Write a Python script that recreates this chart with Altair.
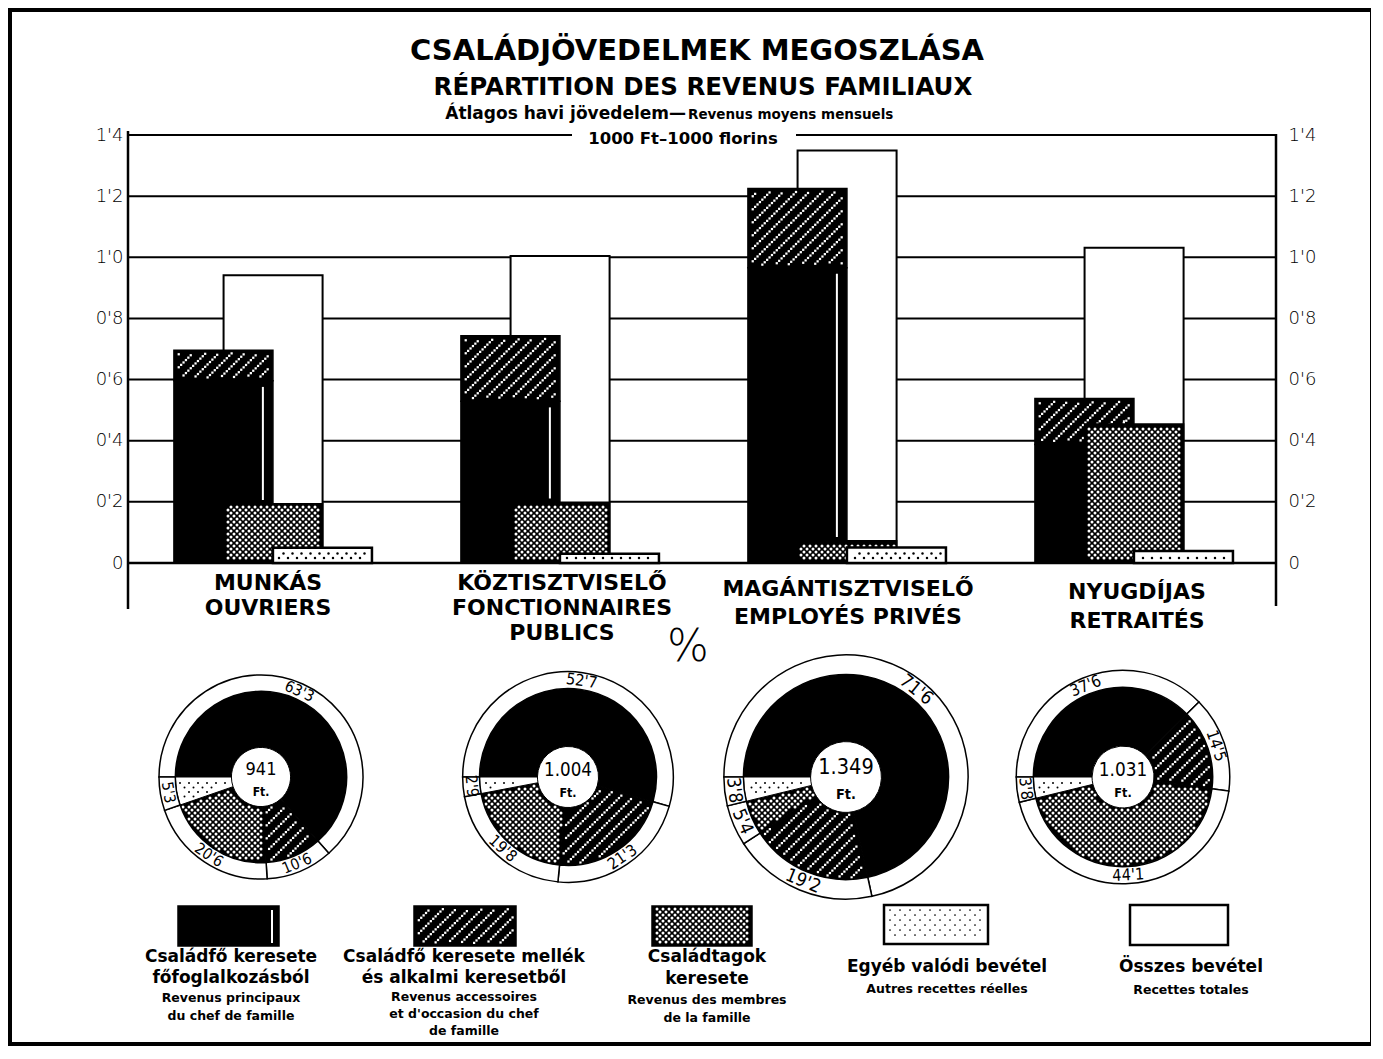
import json
import math
import numpy as np
import pandas as pd
import altair as alt

# ---------------- data ----------------
groups_hu = ["MUNKÁS", "KÖZTISZTVISELŐ", "MAGÁNTISZTVISELŐ", "NYUGDÍJAS"]
groups_fr = [["OUVRIERS"], ["FONCTIONNAIRES", "PUBLICS"], ["EMPLOYÉS PRIVÉS"], ["RETRAITÉS"]]

# monthly income, 1000 Ft
main_income = [0.596, 0.529, 0.966, 0.388]
accessory_income = [0.100, 0.214, 0.259, 0.150]
family_income = [0.194, 0.199, 0.073, 0.455]
other_income = [0.050, 0.030, 0.051, 0.039]
total_income = [0.941, 1.004, 1.349, 1.031]

# shares, %
main_pct = [63.3, 52.7, 71.6, 37.6]
accessory_pct = [10.6, 21.3, 19.2, 14.5]
family_pct = [20.6, 19.8, 5.4, 44.1]
other_pct = [5.3, 2.9, 3.8, 3.8]
pct_text = [["63'3", "10'6", "20'6", "5'3"],
            ["52'7", "21'3", "19'8", "2'9"],
            ["71'6", "19'2", "5'4", "3'8"],
            ["37'6", "14'5", "44'1", "3'8"]]
total_text = ["941", "1.004", "1.349", "1.031"]

tick_values = [0, 0.2, 0.4, 0.6, 0.8, 1.0, 1.2, 1.4]
tick_labels = ["0", "0'2", "0'4", "0'6", "0'8", "1'0", "1'2", "1'4"]

title_lines = ["CSALÁDJÖVEDELMEK MEGOSZLÁSA", "RÉPARTITION DES REVENUS FAMILIAUX"]
subtitle_hu = "Átlagos havi jövedelem—"
subtitle_fr = "Revenus moyens mensuels"
unit_text = "1000 Ft–1000 florins"

legend_hu = [["Családfő keresete", "főfoglalkozásból"],
             ["Családfő keresete mellék", "és alkalmi keresetből"],
             ["Családtagok", "keresete"],
             ["Egyéb valódi bevétel"],
             ["Összes bevétel"]]
legend_fr = [["Revenus principaux", "du chef de famille"],
             ["Revenus accessoires", "et d'occasion du chef", "de famille"],
             ["Revenus des membres", "de la famille"],
             ["Autres recettes réelles"],
             ["Recettes totales"]]

# ---------------- layout ----------------
W, H = 1148, 428          # plot area
OX, OY = 128, 135         # page position of plot origin
YMAX = 1.4
SX, SY = W / 4.0, H / YMAX
FONT = "DejaVu Sans"
NARROW = "DejaVu Sans Condensed, Liberation Sans Narrow, DejaVu Sans"


def dx(px):
    return (np.asarray(px, dtype=float) - OX) / SX


def dy(py):
    return (OY + H - np.asarray(py, dtype=float)) / SY


def to_px(v):
    return OX + v * SX


def to_py(v):
    return OY + H - v * SY


XS = alt.Scale(domain=[0, 4], nice=False, zero=False)
YS = alt.Scale(domain=[0, YMAX], nice=False, zero=False)


def rect_layer(df, **mk):
    return alt.Chart(df).mark_rect(**mk).encode(
        x=alt.X("x0:Q", scale=XS, axis=None), x2=alt.X2("x1"),
        y=alt.Y("y0:Q", scale=YS, axis=None), y2=alt.Y2("y1"))


def rule_layer(df, **mk):
    return alt.Chart(df).mark_rule(**mk).encode(
        x=alt.X("x0:Q", scale=XS, axis=None), x2=alt.X2("x1"),
        y=alt.Y("y0:Q", scale=YS, axis=None), y2=alt.Y2("y1"))


def point_layer(pts, color, size, shape="square"):
    arr = np.array(pts, dtype=float).reshape(-1, 2)
    df = pd.DataFrame({"x": dx(arr[:, 0]), "y": dy(arr[:, 1])})
    return alt.Chart(df).mark_point(shape=shape, filled=True, size=size, color=color,
                                    opacity=1, strokeWidth=0).encode(
        x=alt.X("x:Q", scale=XS, axis=None), y=alt.Y("y:Q", scale=YS, axis=None))


def text_layer(rows, weight="bold", align="center", baseline="middle", font=FONT):
    df = pd.DataFrame(rows, columns=["text", "px", "py", "size", "angle"])
    df["x"] = dx(df["px"])
    df["y"] = dy(df["py"])
    return alt.Chart(df).mark_text(font=font, fontWeight=weight, align=align,
                                   baseline=baseline, color="black").encode(
        x=alt.X("x:Q", scale=XS, axis=None), y=alt.Y("y:Q", scale=YS, axis=None),
        text=alt.Text("text:N"), size=alt.Size("size:Q", scale=None),
        angle=alt.Angle("angle:Q", scale=None))


def arc_layer(df, **mk):
    return alt.Chart(df).mark_arc(**mk).encode(
        x=alt.X("x:Q", scale=XS, axis=None), y=alt.Y("y:Q", scale=YS, axis=None),
        theta=alt.Theta("t0:Q", scale=None, stack=None), theta2=alt.Theta2("t1"),
        radius=alt.Radius("r1:Q", scale=None), radius2=alt.Radius2("r0"),
        color=alt.Color("fill:N", scale=None))


def box_df(boxes):
    return pd.DataFrame({"x0": [dx(b[0]) for b in boxes], "x1": [dx(b[1]) for b in boxes],
                         "y0": [dy(b[2]) for b in boxes], "y1": [dy(b[3]) for b in boxes]})


# ---- pattern generators (page pixel space) ----
def rect_test(box, m=1.5):
    x0, x1, y0, y1 = box
    return lambda x, y: (x0 + m <= x <= x1 - m) and (y0 + m <= y <= y1 - m)


def sector_test(cx, cy, r0, r1, a0, a1, m=2.0):
    def f(x, y):
        ddx, ddy = x - cx, y - cy
        r = math.hypot(ddx, ddy)
        if r < r0 + m or r > r1 - m:
            return False
        th = math.atan2(ddx, -ddy) % (2 * math.pi)
        rel = (th - a0) % (2 * math.pi)
        am = m / max(r, 1.0)
        return am < rel < (a1 - a0) - am
    return f


def hatch_in(inside, box, gap=13.0, step=3.4):
    x0, x1, y0, y1 = box
    pts = []
    c = math.floor((x0 + y0) / gap) * gap
    s = step / math.sqrt(2)
    while c <= x1 + y1:
        t = x0
        while t <= x1:
            y = c - t
            if y0 <= y <= y1 and inside(t, y):
                pts.append((t, y))
            t += s
        c += gap
    return pts


def lattice_in(inside, box, gap=6.0):
    x0, x1, y0, y1 = box
    pts = []
    h = gap / 2
    yy = math.floor(y0 / h) * h
    while yy <= y1:
        off = h if (round(yy / h) % 2) else 0.0
        xx = math.floor(x0 / gap) * gap + off
        while xx <= x1:
            if x0 <= xx <= x1 and y0 <= yy <= y1 and inside(xx, yy):
                pts.append((xx, yy))
            xx += gap
        yy += h
    return pts


layers = []

# frame
layers.append(rect_layer(box_df([(10, 1372, 10, 1044)]), filled=False, stroke="black", strokeWidth=4))

# gridlines with left / right axes
grid_df = pd.DataFrame({"v": tick_values, "x0": 0.0, "x1": 4.0})
label_expr = json.dumps(tick_labels) + "[round(datum.value*5)]"
axis_common = dict(values=tick_values, labelExpr=label_expr, ticks=False, domain=False, grid=False,
                   labelFont=FONT, labelFontWeight=200, labelFontSize=18, labelColor="black", title=None)
layers.append(alt.Chart(grid_df).mark_rule(color="black", strokeWidth=2).encode(
    x=alt.X("x0:Q", scale=XS, axis=None), x2=alt.X2("x1"),
    y=alt.Y("v:Q", scale=YS, axis=alt.Axis(orient="left", labelPadding=5, **axis_common))))
layers.append(alt.Chart(grid_df).mark_rule(opacity=0).encode(
    x=alt.X("x0:Q", scale=XS, axis=None), x2=alt.X2("x1"),
    y=alt.Y("v:Q", scale=YS, axis=alt.Axis(orient="right", labelPadding=12, **axis_common))))

# white gap in the top line for the unit text
layers.append(rect_layer(box_df([(572, 796, 127, 149)]), fill="white"))
# vertical axis lines + zero line
layers.append(rule_layer(pd.DataFrame({"x0": [0.0, 4.0, 0.0], "x1": [0.0, 4.0, 4.0],
                                       "y0": [dy(131), dy(134), 0.0], "y1": [dy(609), dy(606), 0.0]}),
                         color="black", strokeWidth=2.5))

# ---------------- bars ----------------
gi = np.arange(4, dtype=float)
main_arr = np.array(main_income)
acc_arr = np.array(accessory_income)
total_df = pd.DataFrame({"x0": gi + 0.333, "x1": gi + 0.678, "y0": 0.0, "y1": total_income})
main_df = pd.DataFrame({"x0": gi + 0.16, "x1": gi + 0.505, "y0": 0.0, "y1": main_arr})
acc_df = pd.DataFrame({"x0": gi + 0.16, "x1": gi + 0.505, "y0": main_arr, "y1": main_arr + acc_arr})
fam_df = pd.DataFrame({"x0": gi + 0.333, "x1": gi + 0.678, "y0": 0.0, "y1": family_income})
oth_df = pd.DataFrame({"x0": gi + 0.505, "x1": gi + 0.85, "y0": 0.0, "y1": other_income})


def df_boxes(df):
    return [(to_px(r.x0), to_px(r.x1), to_py(r.y1), to_py(r.y0)) for r in df.itertuples()]


layers.append(rect_layer(total_df, fill="white", stroke="black", strokeWidth=2))
layers.append(rect_layer(main_df, fill="black", stroke="black", strokeWidth=1.5))
layers.append(rect_layer(acc_df, fill="black", stroke="black", strokeWidth=1.5))
bar_hatch = []
for b in df_boxes(acc_df):
    bar_hatch += hatch_in(rect_test(b, 3), b)
layers.append(point_layer(bar_hatch, "white", 5))
hl_df = pd.DataFrame({"x0": gi + 0.47, "x1": gi + 0.47, "y0": np.array(family_income) + 0.012,
                      "y1": main_arr - 0.02})
layers.append(rule_layer(hl_df, color="white", strokeWidth=2))
layers.append(rect_layer(fam_df, fill="black", stroke="black", strokeWidth=1.5))
bar_lat = []
for b in df_boxes(fam_df):
    bar_lat += lattice_in(rect_test(b, 2.5), b)
layers.append(point_layer(bar_lat, "white", 9, "circle"))
layers.append(rect_layer(oth_df, fill="white", stroke="black", strokeWidth=2.5))
bar_dots = []
for b in df_boxes(oth_df):
    bar_dots += lattice_in(rect_test(b, 4), b, gap=9)
layers.append(point_layer(bar_dots, "black", 6, "circle"))

# ---------------- pies ----------------
PIE_CX = [261, 568, 846, 1123]
PIE_CY = 777
fills = ["black", "black", "black", "white"]
pie_rows, ring_rows, lab_rows, center_rows, ft_rows = [], [], [], [], []
pie_hatch, pie_lat, pie_dots = [], [], []
for i in range(4):
    pcts = [main_pct[i], accessory_pct[i], family_pct[i], other_pct[i]]
    tot = sum(pcts)
    R = 102 * math.sqrt(total_income[i] / total_income[0])
    Rp, Ri = 0.84 * R, 0.29 * R
    cx, cy = PIE_CX[i], PIE_CY
    a = 1.5 * math.pi
    for k, p in enumerate(pcts):
        a0, a1 = a, a + 2 * math.pi * p / tot
        base = dict(x=float(dx(cx)), y=float(dy(cy)), t0=a0, t1=a1)
        pie_rows.append(dict(base, r0=Ri, r1=Rp, fill=fills[k]))
        ring_rows.append(dict(base, r0=Rp, r1=R, fill="white"))
        test = sector_test(cx, cy, Ri, Rp, a0, a1)
        box = (cx - Rp, cx + Rp, cy - Rp, cy + Rp)
        if k == 1:
            pie_hatch += hatch_in(test, box)
        elif k == 2:
            pie_lat += lattice_in(test, box)
        elif k == 3:
            pie_dots += lattice_in(sector_test(cx, cy, Ri, Rp, a0, a1, 3.5), box, gap=9)
        mid = (a0 + a1) / 2
        rm = (Rp + R) / 2
        deg = math.degrees(mid) % 360
        if 90 < deg < 270:
            deg -= 180
        lab_rows.append([pct_text[i][k], cx + rm * math.sin(mid), cy - rm * math.cos(mid),
                         15.5 * R / 102, deg % 360])
        a = a1
    center_rows.append([total_text[i], cx, cy - 0.07 * R, 18 * R / 102, 0])
    ft_rows.append(["Ft.", cx, cy + 0.15 * R, 12 * R / 102, 0])

layers.append(arc_layer(pd.DataFrame(pie_rows), stroke="black", strokeWidth=1))
layers.append(point_layer(pie_hatch, "white", 5))
layers.append(point_layer(pie_lat, "white", 9, "circle"))
layers.append(point_layer(pie_dots, "black", 4, "circle"))
layers.append(arc_layer(pd.DataFrame(ring_rows), stroke="black", strokeWidth=1.5))
layers.append(text_layer(lab_rows, weight="normal", font=NARROW))
layers.append(text_layer(center_rows, weight="normal", font=NARROW))
layers.append(text_layer(ft_rows, weight="bold", font=NARROW))

# ---------------- legend ----------------
LEG_BOX = [(178, 279, 906, 946), (414, 516, 906, 946), (652, 752, 906, 946),
           (884, 988, 905, 944), (1130, 1228, 905, 945)]
layers.append(rect_layer(box_df(LEG_BOX[:3]), fill="black", stroke="black", strokeWidth=1.5))
layers.append(rect_layer(box_df(LEG_BOX[3:]), fill="white", stroke="black", strokeWidth=2.5))
layers.append(point_layer(hatch_in(rect_test(LEG_BOX[1], 3), LEG_BOX[1]), "white", 5))
layers.append(point_layer(lattice_in(rect_test(LEG_BOX[2], 2.5), LEG_BOX[2]), "white", 9, "circle"))
layers.append(point_layer(lattice_in(rect_test(LEG_BOX[3], 5), LEG_BOX[3], gap=10), "black", 3, "circle"))
layers.append(rule_layer(box_df([(LEG_BOX[0][1] - 7, LEG_BOX[0][1] - 7, LEG_BOX[0][2] + 4, LEG_BOX[0][3] - 3)]),
                         color="white", strokeWidth=2))

LEG_CX = [231, 464, 707, 947, 1191]
LEG_HU_Y = [[957, 978], [957, 978], [957, 979], [967], [967]]
LEG_FR_Y = [[998, 1016], [997, 1014, 1031], [1000, 1018], [989], [990]]
hu_rows, fr_rows = [], []
for j in range(5):
    for t, yy in zip(legend_hu[j], LEG_HU_Y[j]):
        hu_rows.append([t, LEG_CX[j], yy, 17, 0])
    for t, yy in zip(legend_fr[j], LEG_FR_Y[j]):
        fr_rows.append([t, LEG_CX[j], yy, 12.5, 0])
layers.append(text_layer(hu_rows))
layers.append(text_layer(fr_rows))

# ---------------- titles & category labels ----------------
title_rows = [[title_lines[0], 697, 51, 29, 0],
              [title_lines[1], 703, 88, 24.5, 0],
              [unit_text, 683, 139, 16.5, 0]]
CAT_CX = [268, 562, 848, 1137]
CAT_Y = [[583, 608], [583, 608, 633], [589, 617], [592, 621]]
for j in range(4):
    lines = [groups_hu[j]] + groups_fr[j]
    for t, yy in zip(lines, CAT_Y[j]):
        title_rows.append([t, CAT_CX[j], yy, 22, 0])
layers.append(text_layer(title_rows))
layers.append(text_layer([[subtitle_hu, 686, 114, 17, 0]], align="right"))
layers.append(text_layer([[subtitle_fr, 688, 115, 13.5, 0]], align="left"))
layers.append(text_layer([["%", 688, 648, 44, 0]], weight=200))

chart = alt.layer(*layers).resolve_axis(y="independent", x="independent").properties(
    width=W, height=H,
    autosize=alt.AutoSizeParams(type="none"),
    padding={"left": OX - 8, "top": OY - 8, "right": 1363 - (OX - 8) - W, "bottom": 1040 - (OY - 8) - H},
    background="white",
).configure_view(strokeOpacity=0)

chart.save("out.html", embed_options={"renderer": "svg", "actions": False})
